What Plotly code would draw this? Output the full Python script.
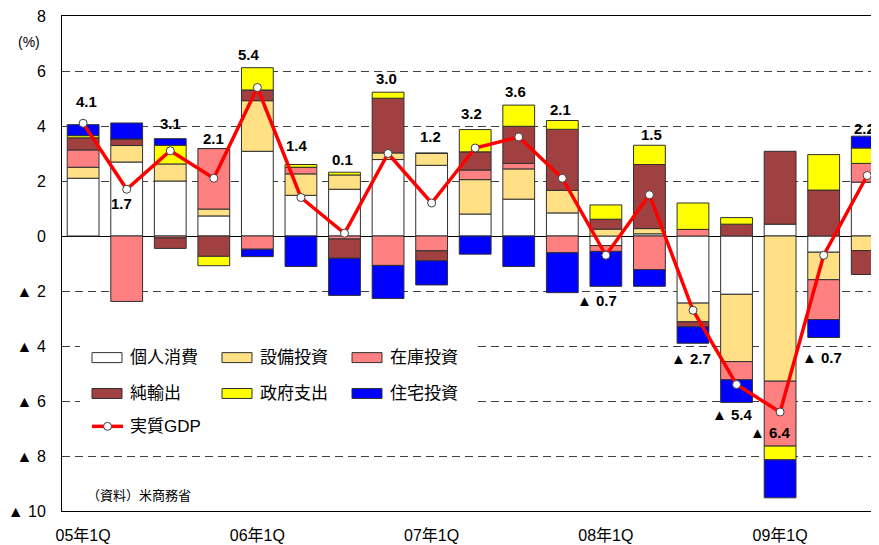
import plotly.graph_objects as go

# ---------------- data ----------------
quarters = ["05年1Q", "05年2Q", "05年3Q", "05年4Q",
            "06年1Q", "06年2Q", "06年3Q", "06年4Q",
            "07年1Q", "07年2Q", "07年3Q", "07年4Q",
            "08年1Q", "08年2Q", "08年3Q", "08年4Q",
            "09年1Q", "09年2Q", "09年3Q"]

consumption = [2.10, 2.69, 2.00, 0.73, 3.08, 1.48, 1.70, 2.78, 2.57, 0.80,
               1.34, 0.84, -0.35, 0.08, -2.44, -2.12, 0.43, -0.59, 1.96]
equipment = [0.40, 0.60, 0.62, 0.25, 1.84, 0.78, 0.52, 0.24, 0.44, 1.25,
             1.10, 0.82, 0.25, 0.19, -0.68, -2.45, -5.28, -1.00, -0.53]
inventory = [0.63, -2.38, -0.07, 2.20, -0.48, 0.24, -0.11, -1.07, -0.54, 0.35,
             0.20, -0.61, -0.21, -1.22, 0.24, -0.66, -2.36, -1.45, 0.68]
net_exports = [0.44, 0.24, -0.38, -0.74, 0.39, 0.00, -0.70, 1.99, -0.36, 0.66,
               1.35, 2.22, 0.36, 2.33, -0.18, 0.43, 2.65, 1.67, -0.87]
government = [0.08, 0.00, 0.68, -0.34, 0.81, 0.10, 0.10, 0.22, 0.00, 0.81,
              0.77, 0.32, 0.52, 0.70, 0.96, 0.24, -0.50, 1.29, 0.56]
residential = [0.40, 0.58, 0.24, 0.00, -0.27, -1.11, -1.35, -1.20, -0.88, -0.66,
               -1.11, -1.45, -1.27, -0.61, -0.60, -0.82, -1.38, -0.65, 0.43]
gdp = [4.1, 1.7, 3.1, 2.1, 5.4, 1.4, 0.1, 3.0, 1.2, 3.2,
       3.6, 2.1, -0.7, 1.5, -2.7, -5.4, -6.4, -0.7, 2.2]

series_names = ["個人消費", "設備投資", "在庫投資", "純輸出", "政府支出", "住宅投資"]
line_name = "実質GDP"
y_tick_values = [8, 6, 4, 2, 0, -2, -4, -6, -8, -10]
unit_label = "(%)"
source_label = "（資料）米商務省"

# label placement (layout only): y position in data units and pixel x-shift
label_y = [4.89, 1.17, 4.08, 3.55, 6.6, 3.3, 2.8, 5.72, 3.62, 4.46,
           5.27, 4.6, -2.34, 3.7, -4.47, -6.5, -7.15, -4.4, 3.9]
label_dx = [3, -5, 0, 0, -8, -4, -2, -2, -1, -4,
            -3, -2, -9, 2, -2, -4, -10, -2, -3]

# ---------------- style ----------------
FONT = "Liberation Sans, Arial, Noto Sans CJK JP, sans-serif"
colors = ["#FFFFFF", "#FFE084", "#FF8080", "#A04040", "#FFFF00", "#0000FF"]
edge = "#303030"

x = list(range(len(quarters)))
series = [consumption, equipment, inventory, net_exports, government, residential]

fig = go.Figure()
for name, vals, col in zip(series_names, series, colors):
    fig.add_trace(go.Bar(
        x=x, y=vals, name=name, showlegend=False,
        marker=dict(color=col, line=dict(color=edge, width=1)),
        width=0.73,
    ))

fig.add_trace(go.Scatter(
    x=x, y=gdp, name=line_name, mode="lines+markers", showlegend=False,
    line=dict(color="#FF0000", width=3.5),
    marker=dict(symbol="circle", size=8, color="#FFFFFF",
                line=dict(color="#404040", width=1)),
))

# value labels
annotations = []
for i, v in enumerate(gdp):
    txt = f"{v:.1f}" if v >= 0 else f"▲ {abs(v):.1f}"
    annotations.append(dict(
        x=x[i], y=label_y[i], xref="x", yref="y", text=txt, showarrow=False,
        xshift=label_dx[i], xanchor="center", yanchor="middle",
        font=dict(family=FONT, size=15, color="#000000", weight="bold"),
    ))

# page pixel -> paper helpers (plot area on page: x 62..879, y 14..511)
PL, PR, PT, PB = 62, 879, 14, 511
def px(v):
    return (v - PL) / (PR - PL)
def py(v):
    return (PB - v) / (PB - PT)

annotations.append(dict(x=px(29), y=py(40), xref="paper", yref="paper",
                        text=unit_label, showarrow=False, xanchor="center",
                        yanchor="middle", font=dict(family=FONT, size=14, color="#000")))
annotations.append(dict(x=px(85), y=py(495), xref="paper", yref="paper",
                        text=source_label, showarrow=False, xanchor="left",
                        yanchor="middle", font=dict(family=FONT, size=13, color="#000")))

# manual legend
shapes = [dict(type="rect", xref="paper", yref="paper",
               x0=px(80), x1=px(476), y0=py(440), y1=py(336),
               fillcolor="#FFFFFF", line=dict(width=0), layer="above")]
col_x = [92, 222, 352]
row_y = [357, 393]
for k, (name, col) in enumerate(zip(series_names, colors)):
    r, c = divmod(k, 3)
    sx, sy = col_x[c], row_y[r]
    shapes.append(dict(type="rect", xref="paper", yref="paper",
                       x0=px(sx), x1=px(sx + 30), y0=py(sy + 5), y1=py(sy - 5),
                       fillcolor=col, line=dict(color=edge, width=1), layer="above"))
    annotations.append(dict(x=px(sx + 36), y=py(sy), xref="paper", yref="paper",
                            text=name, showarrow=False, xanchor="left", yanchor="middle",
                            font=dict(family=FONT, size=17, color="#000")))
ly = 426
shapes.append(dict(type="line", xref="paper", yref="paper",
                   x0=px(92), x1=px(123), y0=py(ly), y1=py(ly),
                   line=dict(color="#FF0000", width=3.5), layer="above"))
shapes.append(dict(type="circle", xref="paper", yref="paper",
                   x0=px(103.5), x1=px(111.5), y0=py(ly + 4), y1=py(ly - 4),
                   fillcolor="#FFFFFF", line=dict(color="#404040", width=1), layer="above"))
annotations.append(dict(x=px(128), y=py(ly), xref="paper", yref="paper",
                        text=line_name, showarrow=False, xanchor="left", yanchor="middle",
                        font=dict(family=FONT, size=17, color="#000")))

tick_vals_x = [i for i, q in enumerate(quarters) if q.endswith("1Q")]
tick_text_x = [quarters[i] for i in tick_vals_x]
y_ticktext = [str(v) if v >= 0 else f"▲ {abs(v)}" for v in y_tick_values]
x_range = [-0.485, 18.27]
y_range = [-10, 8]

# the page body adds an 8px offset; compensate so the plot area lands where intended
OFF = 8
W, H = 879 - OFF, 545 - OFF

fig.update_layout(
    width=W, height=H,
    margin=dict(l=PL - OFF, r=0, t=PT - OFF, b=H - (PB - OFF)),
    paper_bgcolor="#FFFFFF", plot_bgcolor="#FFFFFF",
    barmode="relative",
    font=dict(family=FONT, size=16, color="#000"),
    xaxis=dict(range=x_range, tickmode="array", tickvals=tick_vals_x,
               ticktext=tick_text_x, showline=True, mirror=True,
               linecolor="#000000", linewidth=1, showgrid=False, zeroline=False,
               ticks="", ticklabelstandoff=10, ticklabeloverflow="allow",
               tickfont=dict(family=FONT, size=16, color="#000")),
    xaxis2=dict(range=x_range, overlaying="x", anchor="free",
                position=(0 - y_range[0]) / (y_range[1] - y_range[0]),
                tickmode="array", tickvals=[i + 0.5 for i in x[:-1]],
                ticks="inside", ticklen=5, tickcolor="#000", tickwidth=1,
                showticklabels=False, showline=False, showgrid=False, zeroline=False),
    yaxis=dict(range=y_range, tickmode="array", tickvals=y_tick_values,
               ticktext=y_ticktext, showline=True, linecolor="#000000", linewidth=1,
               showgrid=True, gridcolor="#404040", gridwidth=1, griddash="8px,5px",
               zeroline=True, zerolinecolor="#000000", zerolinewidth=1,
               ticks="", ticklabelstandoff=12, ticklabeloverflow="allow",
               tickfont=dict(family=FONT, size=16, color="#000")),
    annotations=annotations,
    shapes=shapes,
)

fig.write_html("out.html")
